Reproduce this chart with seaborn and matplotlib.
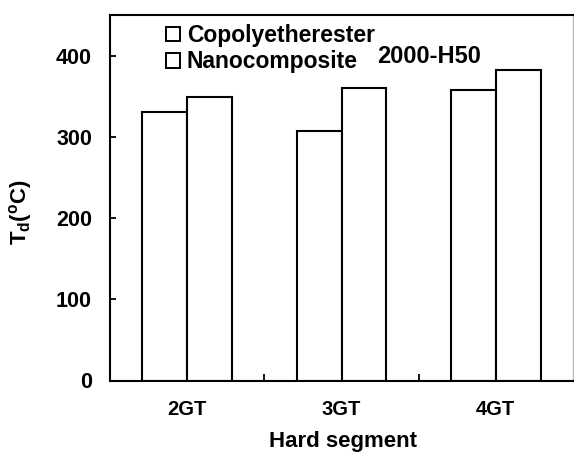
import matplotlib
matplotlib.use("Agg")
import matplotlib.pyplot as plt
import seaborn as sns
import pandas as pd
from matplotlib.patches import Patch

categories = ["2GT", "3GT", "4GT"]
copolyetherester = [331, 307, 358]
nanocomposite = [349, 360, 382]
series_names = ["Copolyetherester", "Nanocomposite"]
y_ticks = [0, 100, 200, 300, 400]

sns.set_theme(style="ticks")
plt.rcParams["font.family"] = ["Liberation Sans", "DejaVu Sans"]
plt.rcParams["font.weight"] = "bold"
plt.rcParams["mathtext.fontset"] = "custom"
plt.rcParams["mathtext.rm"] = "Liberation Sans:bold"
plt.rcParams["mathtext.default"] = "rm"
for k in ["text.color", "axes.labelcolor", "xtick.color", "ytick.color", "axes.edgecolor"]:
    plt.rcParams[k] = "black"

df = pd.DataFrame({
    "Hard segment": categories * 2,
    "Td": copolyetherester + nanocomposite,
    "Series": [series_names[0]] * 3 + [series_names[1]] * 3,
})

fig = plt.figure(figsize=(5.74, 4.57), dpi=100)
ax = fig.add_axes([110 / 574, 1 - 380.5 / 457, 463 / 574, 365.5 / 457])

sns.barplot(data=df, x="Hard segment", y="Td", hue="Series", order=categories,
            hue_order=series_names, palette=["white", "white"], width=0.58,
            edgecolor="black", linewidth=1.5, saturation=1, legend=False, ax=ax)

ax.set_xlim(-0.5, 2.5)
ax.set_ylim(0, 450)
ax.set_yticks(y_ticks)
ax.set_yticklabels([str(t) for t in y_ticks], fontsize=15.5, fontweight="bold", color="black")
ax.tick_params(axis="y", direction="in", length=4, width=1.3, pad=13, colors="black")
ax.set_xticks(range(len(categories)))
ax.set_xticklabels(categories, fontsize=14.5, fontweight="bold", color="black")
ax.tick_params(axis="x", which="major", length=0, pad=14)
ax.set_xticks([0.5, 1.5], minor=True)
ax.tick_params(axis="x", which="minor", direction="in", length=5, width=1.3, colors="black")

for side in ["left", "bottom", "top"]:
    ax.spines[side].set_linewidth(1.5)
    ax.spines[side].set_color("black")
ax.spines["right"].set_linewidth(1.0)
ax.spines["right"].set_color("#bbbbbb")

ax.set_xlabel("Hard segment", fontsize=16, fontweight="bold", color="black")
ax.xaxis.set_label_coords((343 - 110) / 463, (380.5 - 441) / 365.5)
ax.xaxis.label.set_va("center")
ax.set_ylabel(r"T$_{d}$($^{o}$C)", fontsize=16, fontweight="bold", color="black")
ax.yaxis.set_label_coords((20 - 110) / 463, (380.5 - 212) / 365.5)
ax.yaxis.label.set_va("center")

handles = [Patch(facecolor="white", edgecolor="black", linewidth=1.4, label=n) for n in series_names]
leg = ax.legend(handles=handles, loc="upper left",
                bbox_to_anchor=((166 - 110) / 463, (380.5 - 24) / 365.5),
                frameon=False, handlelength=0.6, handleheight=0.6,
                handletextpad=0.3, labelspacing=0.15, borderpad=0, borderaxespad=0,
                prop={"family": ["Liberation Sans"], "weight": "bold", "size": 16.5})
for t in leg.get_texts():
    t.set_fontweight("bold")
    t.set_color("black")

ax.text(1.565, 399, "2000-H50", ha="center", va="center", fontsize=17,
        fontweight="bold", color="black")

fig.savefig("out.png", dpi=100)
